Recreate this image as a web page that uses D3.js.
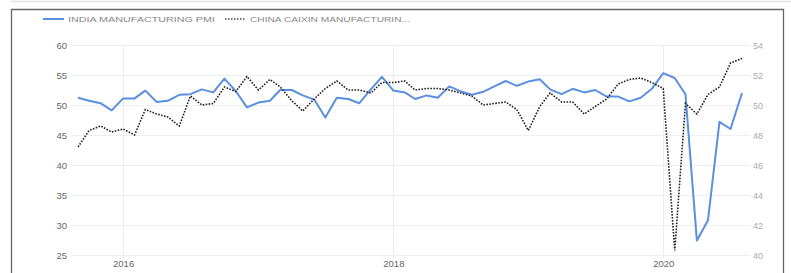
<!DOCTYPE html>
<html><head><meta charset="utf-8">
<script src="https://cdn.jsdelivr.net/npm/d3@7"></script>
<style>body{margin:0;background:#fff;} svg{display:block;font-family:"Liberation Sans",Arial,sans-serif;}</style>
</head><body><svg id="c" width="791" height="273"></svg>
<script>
const startMonth = "2015-09";
const indiaPMI = [51.2,50.7,50.3,49.1,
 51.1,51.1,52.4,50.5,50.7,51.7,51.8,52.6,52.1,54.4,52.3,49.6,
 50.4,50.7,52.5,52.5,51.6,50.9,47.9,51.2,51.0,50.3,52.6,54.7,
 52.4,52.1,51.0,51.6,51.2,53.1,52.3,51.7,52.2,53.1,54.0,53.2,
 53.9,54.3,52.6,51.8,52.7,52.1,52.5,51.4,51.4,50.6,51.2,52.7,
 55.3,54.5,51.8,27.4,30.8,47.2,46.0,52.0];
const chinaPMI = [47.2,48.3,48.6,48.2,
 48.4,48.0,49.7,49.4,49.2,48.6,50.6,50.0,50.1,51.2,50.9,51.9,
 51.0,51.7,51.2,50.3,49.6,50.4,51.1,51.6,51.0,51.0,50.8,51.5,
 51.5,51.6,51.0,51.1,51.1,51.0,50.8,50.6,50.0,50.1,50.2,49.7,
 48.3,49.9,50.8,50.2,50.2,49.4,49.9,50.4,51.4,51.7,51.8,51.5,
 51.1,40.3,50.1,49.4,50.7,51.2,52.8,53.1];
const leftTicks = [25,30,35,40,45,50,55,60];
const rightTicks = [40,42,44,46,48,50,52,54];
const xTickYears = ["2016","2018","2020"];
const seriesNames = ["INDIA MANUFACTURING PMI","CHINA CAIXIN MANUFACTURIN..."];

const parse = d3.timeParse("%Y-%m");
const t0 = parse(startMonth);
const dates = indiaPMI.map((_, i) => d3.timeMonth.offset(t0, i));

const svg = d3.select("#c");
const x = d3.scaleTime().domain([dates[0], dates[dates.length-1]]).range([78, 742]);
const yL = d3.scaleLinear().domain([25, 60]).range([255, 45]);
const yR = d3.scaleLinear().domain([40, 54]).range([255, 45]);

// frame
svg.append("line").attr("x1",11).attr("x2",791).attr("y1",1.5).attr("y2",1.5).attr("stroke","#e2e2e2").attr("stroke-width",1.5);
svg.append("path").attr("d","M11.5,273 V9.5 H783.5 V273").attr("fill","none").attr("stroke","#666").attr("stroke-width",1.3);

// grid
const g = svg.append("g");
g.selectAll("line.h").data(leftTicks).join("line")
  .attr("x1",72).attr("x2",750).attr("y1",d=>yL(d)+0.5).attr("y2",d=>yL(d)+0.5)
  .attr("stroke","#efefef").attr("stroke-width",1);
g.selectAll("line.v").data(xTickYears).join("line")
  .attr("x1",d=>Math.round(x(parse(d+"-01")))+0.5).attr("x2",d=>Math.round(x(parse(d+"-01")))+0.5)
  .attr("y1",45).attr("y2",258).attr("stroke","#ececec").attr("stroke-width",1);

// axes labels
const axL = svg.append("g").attr("transform","translate(67,0)")
  .call(d3.axisLeft(yL).tickValues(leftTicks).tickSize(0).tickPadding(0));
axL.select(".domain").remove();
axL.selectAll("text").attr("fill","#666").style("font-size","9.5px").attr("dy","0.35em");

const axR = svg.append("g").attr("transform","translate(753,0)")
  .call(d3.axisRight(yR).tickValues(rightTicks).tickSize(0).tickPadding(0));
axR.select(".domain").remove();
axR.selectAll("text").attr("fill","#aaa").style("font-size","9px").attr("dy","0.35em");

const axB = svg.append("g").attr("transform","translate(0,260)")
  .call(d3.axisBottom(x).tickValues(xTickYears.map(d=>parse(d+"-01"))).tickFormat(d3.timeFormat("%Y")).tickSize(0).tickPadding(0));
axB.select(".domain").remove();
axB.selectAll("text").attr("fill","#666").style("font-size","9.5px").attr("dy","0.7em");

// lines
const lineL = d3.line().x((d,i)=>x(dates[i])).y(d=>yL(d));
const lineR = d3.line().x((d,i)=>x(dates[i])).y(d=>yR(d));
svg.append("path").datum(indiaPMI).attr("d",lineL).attr("fill","none")
  .attr("stroke","#5b8fe0").attr("stroke-width",2).attr("stroke-linejoin","round");
svg.append("path").datum(chinaPMI).attr("d",lineR).attr("fill","none")
  .attr("stroke","#222").attr("stroke-width",1.6).attr("stroke-dasharray","1.6,1.4");

// legend
const lg = svg.append("g");
lg.append("line").attr("x1",43).attr("x2",64).attr("y1",19).attr("y2",19).attr("stroke","#5b8fe0").attr("stroke-width",2);
lg.append("text").attr("x",68).attr("y",22).text(seriesNames[0]).attr("fill","#888")
  .style("font-size","8px").attr("textLength",147).attr("lengthAdjust","spacingAndGlyphs");
lg.append("line").attr("x1",225).attr("x2",246).attr("y1",19).attr("y2",19).attr("stroke","#444").attr("stroke-width",1.5).attr("stroke-dasharray","1.5,1.5");
lg.append("text").attr("x",250).attr("y",22).text(seriesNames[1]).attr("fill","#888")
  .style("font-size","8px").attr("textLength",160).attr("lengthAdjust","spacingAndGlyphs");
</script></body></html>
